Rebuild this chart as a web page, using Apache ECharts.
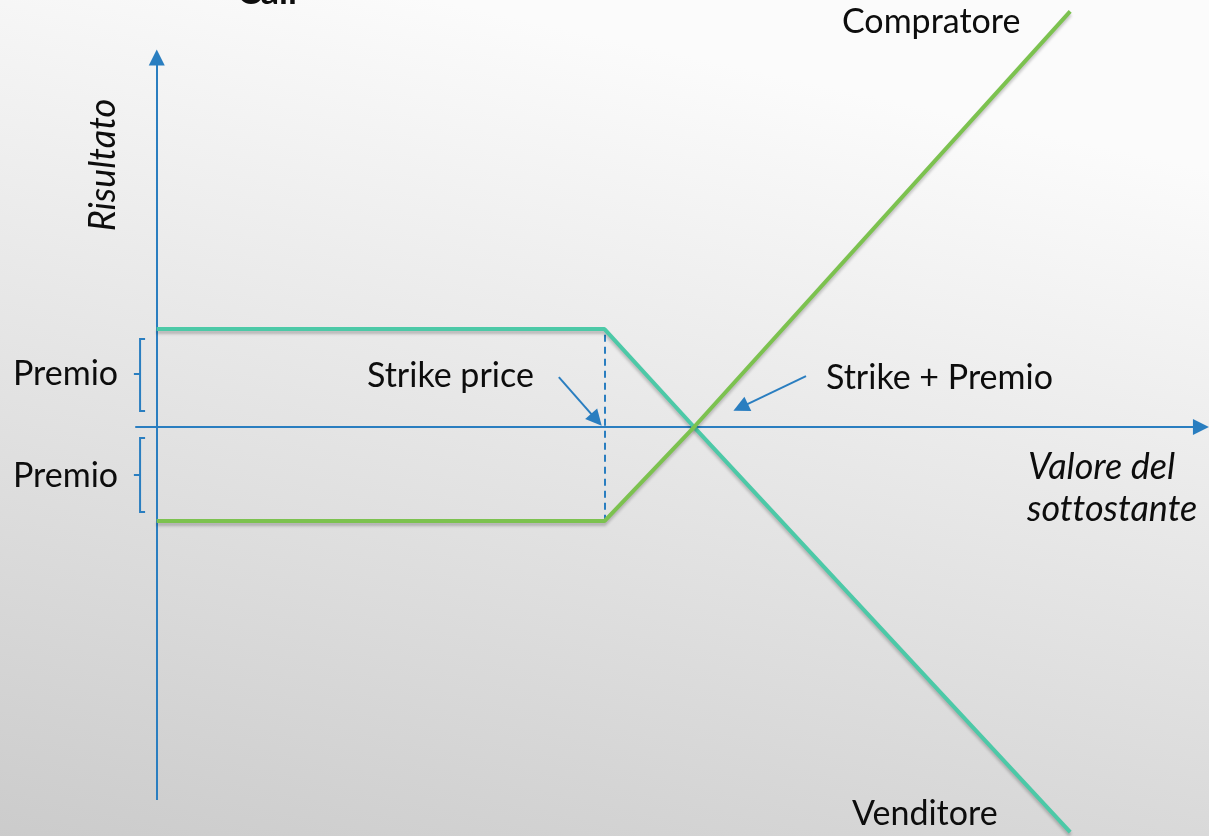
<!DOCTYPE html>
<html>
<head>
<meta charset="utf-8">
<script src="https://cdn.jsdelivr.net/npm/echarts@6/dist/echarts.min.js"></script>
<style>
html,body{margin:0;padding:0;}
#c{width:1209px;height:836px;}
</style>
</head>
<body>
<div id="c"></div>
<script>
// ---- data (units: underlying value on x, result on y) ----
const strike = 50;
const premiumUp = 10.2;
const premiumDown = -9.8;
const breakEven = 60;
// Compratore (buyer) payoff
const buyerPayoff = [[0, premiumDown], [strike, premiumDown], [breakEven, 0], [102, 43.3]];
// Venditore (seller) payoff
const sellerPayoff = [[0, premiumUp], [strike, premiumUp], [breakEven, 0], [102, -42.2]];
// axes drawn as arrows
const xAxisArrow = [[-2.4, 0], [116.6, 0]];
const yAxisArrow = [[0, -38.85], [0, 38.5]];
// strike marker (dashed)
const strikeMarker = [[strike, premiumUp - 0.6], [strike, premiumDown]];
// braces marking the premium
const braceUp = [[-1.3, 9.17], [-1.86, 9.17], [-1.86, 5.52], [-2.55, 5.52], [-1.86, 5.52], [-1.86, 1.67], [-1.3, 1.67]];
const braceDown = [[-1.3, -1.15], [-1.86, -1.15], [-1.86, -5.0], [-2.55, -5.0], [-1.86, -5.0], [-1.86, -8.85], [-1.3, -8.85]];
// pointer arrows
const strikeArrow = [[44.9, 5.2], [49.1, 0.75]];
const breakEvenArrow = [[72.5, 5.3], [65.2, 2.05]];

const ZWNJ = '\u200C';
const labels = {
  title: 'Call',
  buyer: 'Compratore',
  seller: 'Venditore',
  premium: 'Premio',
  strike: 'Strike price',
  breakEven: 'Strike + Premio',
  xName1: 'Valore del',
  xName2: 'sot' + ZWNJ + 'tostante',
  yName: 'Risultato'
};

const BLUE = '#2a7ec0';
const TEAL = '#4cc9a7';
const GREEN = '#7cc24f';
const FONT = 'Lato, "Noto Sans", sans-serif';
const TRI = 'path://M5,0 L10,10 L0,10 Z';

const chart = echarts.init(document.getElementById('c'));

function txt(text, x, y, opts) {
  opts = opts || {};
  return {
    type: 'text', x: x, y: y, rotation: opts.rotation || 0,
    style: {
      text: text,
      font: (opts.style || 'normal') + ' ' + (opts.weight || 'normal') + ' ' + (opts.size || 34) + 'px ' + FONT,
      fill: '#0d0d0d',
      textAlign: opts.align || 'left',
      textVerticalAlign: opts.valign || 'middle'
    },
    z: 100
  };
}

const lineShadow = {shadowColor: 'rgba(0,0,0,0.22)', shadowBlur: 3, shadowOffsetY: 3};

chart.setOption({
  animation: false,
  backgroundColor: {
    type: 'linear', x: 0.566, y: 0.065, x2: 0.393, y2: 1.206,
    colorStops: [
      {offset: 0, color: '#fbfbfb'},
      {offset: 1, color: '#c8c8c8'}
    ]
  },
  grid: {left: 0, right: 0, top: 0, bottom: 0},
  xAxis: {type: 'value', min: -17.5, max: 117.5, show: false},
  yAxis: {type: 'value', min: -42.6, max: 44.48, show: false},
  series: [
    {
      type: 'lines', coordinateSystem: 'cartesian2d', polyline: false, silent: true,
      symbol: ['none', TRI], symbolSize: 16,
      lineStyle: {color: BLUE, width: 2, opacity: 1},
      itemStyle: {color: BLUE},
      data: [{coords: xAxisArrow}, {coords: yAxisArrow}]
    },
    {
      type: 'lines', coordinateSystem: 'cartesian2d', polyline: true, silent: true,
      lineStyle: {color: BLUE, width: 2, opacity: 1},
      data: [{coords: braceUp}, {coords: braceDown}]
    },
    {
      type: 'lines', coordinateSystem: 'cartesian2d', silent: true,
      symbol: ['none', 'none'],
      lineStyle: {color: BLUE, width: 2, type: [7, 5], opacity: 1},
      data: [{coords: strikeMarker}]
    },
    {
      type: 'lines', coordinateSystem: 'cartesian2d', silent: true,
      symbol: ['none', TRI], symbolSize: 16,
      lineStyle: {color: BLUE, width: 2, opacity: 1},
      itemStyle: {color: BLUE},
      data: [{coords: strikeArrow}, {coords: breakEvenArrow}]
    },
    {
      name: labels.seller, type: 'line', data: sellerPayoff, showSymbol: false, symbol: 'none',
      lineStyle: Object.assign({color: TEAL, width: 4}, lineShadow), z: 5
    },
    {
      name: labels.buyer, type: 'line', data: buyerPayoff, showSymbol: false, symbol: 'none',
      lineStyle: Object.assign({color: GREEN, width: 4}, lineShadow), z: 6
    }
  ],
  graphic: [
    txt(labels.title, 237, 10, {weight: 'bold', size: 36, valign: 'bottom'}),
    txt(labels.buyer, 842, 22),
    txt(labels.seller, 852, 814),
    txt(labels.premium, 13, 374),
    txt(labels.premium, 13, 476),
    txt(labels.strike, 367, 376),
    txt(labels.breakEven, 826, 378),
    txt(labels.xName1, 1028, 467, {style: 'italic', size: 36}),
    txt(labels.xName2, 1027, 509, {style: 'italic', size: 36}),
    txt(labels.yName, 103, 165, {style: 'italic', size: 36, align: 'center', rotation: Math.PI / 2})
  ]
});
</script>
</body>
</html>
